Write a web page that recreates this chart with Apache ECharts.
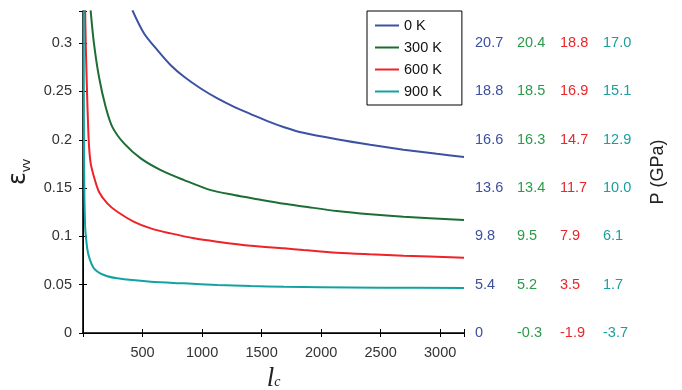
<!DOCTYPE html>
<html>
<head>
<meta charset="utf-8">
<script src="https://cdn.jsdelivr.net/npm/echarts@6/dist/echarts.min.js"></script>
<style>html,body{margin:0;padding:0;background:#fff}#c{width:682px;height:390px}</style>
</head>
<body>
<div id="c"></div>
<script>
// Series data: [l_c, eps_vv]
const series0K = [[415,0.334],[513,0.310],[625,0.2928],[737,0.2772],[849,0.2652],[989,0.2531],[1129,0.2428],[1269,0.2341],[1409,0.2266],[1549,0.2193],[1689,0.2130],[1851,0.2072],[2132,0.2005],[2412,0.1948],[2692,0.1898],[2972,0.1855],[3200,0.1822]];
const series300K = [[64,0.334],[92,0.2997],[134,0.2652],[190,0.2341],[246,0.2134],[345,0.1962],[485,0.1807],[653,0.1686],[849,0.1583],[1073,0.1479],[1269,0.1428],[1465,0.1385],[1689,0.1338],[1851,0.1310],[2132,0.1262],[2412,0.1228],[2692,0.1203],[3200,0.1169]];
const series600K = [[18,0.334],[23,0.300],[31,0.262],[40,0.225],[50,0.195],[64,0.176],[92,0.1617],[134,0.1462],[204,0.1342],[288,0.1255],[429,0.1151],[569,0.1083],[737,0.1031],[933,0.0980],[1129,0.0945],[1409,0.0903],[1689,0.0876],[1851,0.0859],[2132,0.0831],[2412,0.0814],[2692,0.0800],[3200,0.0779]];
const series900K = [[6,0.334],[8,0.2],[12,0.14],[18,0.11],[22,0.103],[35,0.088],[50,0.079],[92,0.067],[176,0.060],[288,0.0566],[569,0.0531],[849,0.0514],[1129,0.0497],[1409,0.0486],[1689,0.0479],[2000,0.0474],[2500,0.0469],[3200,0.0466]];
const seriesNames = ['0 K','300 K','600 K','900 K'];
// Pressure tick labels (right side), for eps = 0, 0.05, ..., 0.3
const p0K   = ['0','5.4','9.8','13.6','16.6','18.8','20.7'];
const p300K = ['-0.3','5.2','9.5','13.4','16.3','18.5','20.4'];
const p600K = ['-1.9','3.5','7.9','11.7','14.7','16.9','18.8'];
const p900K = ['-3.7','1.7','6.1','10.0','12.9','15.1','17.0'];

const lineColors = ['#3b52a3','#1d6e35','#ee2229','#13a2a2'];
const labelColors = ['#3c50a2','#2a9a4a','#e8262c','#1a9e9e'];
const FONT = 'Liberation Sans, Arial, sans-serif';
const YMAX = 0.3333;

function idx(v){const i=Math.round(v/0.05);return Math.abs(v-i*0.05)<1e-6?i:-1;}
function rightAxis(labels,color,offset,first){
  return {
    type:'value', min:0, max:YMAX, interval:0.05, position:'right', offset:offset,
    axisLine:{show:first, lineStyle:{color:'#000',width:1}},
    axisTick:{show:first, inside:true, length:4, lineStyle:{color:'#000'}},
    splitLine:{show:false},
    axisLabel:{margin:11, color:color, fontSize:14.5, fontFamily:FONT, align:'left',
      formatter:v=>{const i=idx(v);return i>=0&&i<labels.length?labels[i]:'';}}
  };
}

const chart = echarts.init(document.getElementById('c'));
const data = [series0K,series300K,series600K,series900K];
const pAxis = rightAxis(p900K,labelColors[3],128,false);
pAxis.name='P (GPa)'; pAxis.nameLocation='middle'; pAxis.nameRotate=90; pAxis.nameGap=57;
pAxis.nameTextStyle={fontSize:18,color:'#222',fontFamily:FONT};
chart.setOption({
  animation:false,
  grid:{left:83,right:218,top:11,bottom:57,outerBoundsMode:'none',containLabel:false},
  legend:{
    data:seriesNames, orient:'vertical', left:367, top:11,
    itemWidth:24, itemHeight:14, itemGap:7, padding:[7,20,6,7],
    borderColor:'#000', borderWidth:1, backgroundColor:'#fff', borderRadius:0,
    itemStyle:{color:'rgba(0,0,0,0)',borderWidth:0,opacity:0},
    textStyle:{fontSize:14.5,color:'#111',fontFamily:FONT}
  },
  xAxis:[
    {type:'value', min:0, max:3200, interval:500, position:'bottom',
     axisLine:{lineStyle:{color:'#000',width:1.6}},
     axisTick:{inside:true,length:4,lineStyle:{color:'#000'}},
     splitLine:{show:false},
     axisLabel:{margin:12,color:'#333',fontSize:14.5,fontFamily:FONT,
       formatter:v=>(v>0&&v%500===0)?String(v):''},
     name:'{l|l}{c|c}', nameLocation:'middle', nameGap:33,
     nameTextStyle:{rich:{
       l:{fontSize:27,fontStyle:'italic',fontFamily:'Liberation Serif, DejaVu Serif, serif',color:'#222',lineHeight:26},
       c:{fontSize:14,fontStyle:'italic',fontFamily:'Liberation Serif, DejaVu Serif, serif',color:'#222',verticalAlign:'bottom',padding:[0,0,3,0]}
     }}},
    {type:'value', min:0, max:3200, interval:500, position:'top',
     axisLine:{lineStyle:{color:'#000',width:1}},
     axisTick:{inside:true,length:4,lineStyle:{color:'#000'}},
     axisLabel:{show:false}, splitLine:{show:false}}
  ],
  yAxis:[
    {type:'value', min:0, max:YMAX, interval:0.05, position:'left',
     axisLine:{lineStyle:{color:'#000',width:1.6}},
     axisTick:{inside:true,length:4,lineStyle:{color:'#000'}},
     splitLine:{show:false},
     axisLabel:{margin:11,color:'#333',fontSize:14.5,fontFamily:FONT,
       formatter:v=>{const i=idx(v);return i>=0?String(Math.round(i*5)/100):'';}},
     name:'{e|ε}{s|vv}', nameLocation:'middle', nameRotate:90, nameGap:46,
     nameTextStyle:{rich:{
       e:{fontSize:24,color:'#222',fontFamily:'DejaVu Sans, sans-serif',lineHeight:28},
       s:{fontSize:13,color:'#222',fontFamily:FONT,verticalAlign:'bottom'}
     }}},
    rightAxis(p0K,labelColors[0],0,true),
    rightAxis(p300K,labelColors[1],42,false),
    rightAxis(p600K,labelColors[2],85,false),
    pAxis
  ],
  series:data.map((d,i)=>({
    name:seriesNames[i], type:'line', data:d, xAxisIndex:0, yAxisIndex:0,
    symbol:'none', smooth:0.3, clip:true,
    lineStyle:{color:lineColors[i],width:2}, itemStyle:{color:lineColors[i]}
  }))
});
</script>
</body>
</html>
